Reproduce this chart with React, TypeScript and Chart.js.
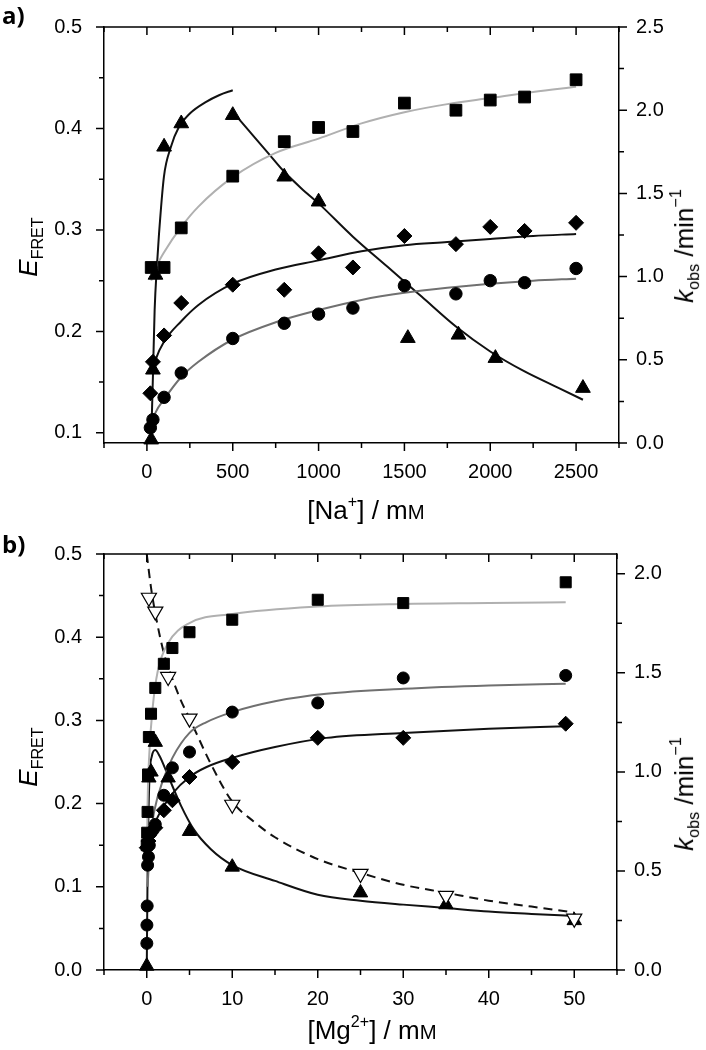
import React, { useEffect, useRef } from "react";
import { Chart, registerables } from "chart.js";
Chart.register(...registerables);

// ---------- Panel a: [Na+] / mM ----------
const naSqX = [25, 100, 200, 500, 800, 1000, 1200, 1500, 1800, 2000, 2200, 2500];
const naSqY = [0.263, 0.263, 0.302, 0.353, 0.387, 0.401, 0.397, 0.425, 0.418, 0.428, 0.431, 0.448];
const naDiX = [20, 35, 100, 200, 500, 800, 1000, 1200, 1500, 1800, 2000, 2200, 2500];
const naDiY = [0.139, 0.17, 0.196, 0.228, 0.246, 0.241, 0.277, 0.263, 0.294, 0.286, 0.303, 0.299, 0.307];
const naCiX = [20, 35, 100, 200, 500, 800, 1000, 1200, 1500, 1800, 2000, 2200, 2500];
const naCiY = [0.105, 0.113, 0.135, 0.159, 0.193, 0.208, 0.217, 0.223, 0.245, 0.237, 0.25, 0.248, 0.262];
const naTrX = [25, 35, 50, 100, 200, 500, 800, 1000, 1520, 1815, 2030, 2540];
const naTrY = [0.02, 0.44, 1.01, 1.78, 1.92, 1.97, 1.6, 1.45, 0.63, 0.65, 0.51, 0.33];

const naSqFitX = [25, 50, 100, 200, 300, 500, 750, 1000, 1250, 1500, 1750, 2000, 2250, 2500];
const naSqFitY = [0.25, 0.262, 0.278, 0.303, 0.323, 0.352, 0.376, 0.39, 0.405, 0.416, 0.424, 0.43, 0.436, 0.441];
const naCiFitX = [20, 50, 100, 200, 300, 500, 750, 1000, 1250, 1500, 1750, 2000, 2250, 2500];
const naCiFitY = [0.105, 0.12, 0.133, 0.155, 0.17, 0.192, 0.209, 0.221, 0.231, 0.238, 0.243, 0.247, 0.25, 0.252];
const naDiFitX = [30, 50, 100, 200, 300, 500, 750, 1000, 1250, 1500, 1750, 2000, 2250, 2500];
const naDiFitY = [0.16, 0.172, 0.19, 0.21, 0.226, 0.247, 0.261, 0.27, 0.279, 0.285, 0.288, 0.291, 0.294, 0.296];
const naTrRiseX = [25, 35, 45, 58, 70, 99, 140, 187, 250, 345, 420, 500];
const naTrRiseY = [0.02, 0.4, 0.8, 1.06, 1.25, 1.6, 1.78, 1.9, 1.98, 2.05, 2.09, 2.12];
const naTrFallX = [500, 600, 700, 800, 900, 1000, 1200, 1400, 1600, 1800, 2000, 2200, 2400, 2540];
const naTrFallY = [1.99, 1.87, 1.75, 1.63, 1.53, 1.44, 1.24, 1.06, 0.88, 0.7, 0.55, 0.43, 0.33, 0.26];

// ---------- Panel b: [Mg2+] / mM ----------
const mgSqX = [0, 0.05, 0.1, 0.15, 0.25, 0.5, 1, 2, 3, 5, 10, 20, 30, 49];
const mgSqY = [0.15, 0.165, 0.19, 0.235, 0.28, 0.308, 0.339, 0.368, 0.387, 0.406, 0.421, 0.445, 0.441, 0.466];
const mgCiX = [0.01, 0.02, 0.05, 0.1, 0.2, 0.3, 0.5, 1, 2, 3, 5, 10, 20, 30, 49];
const mgCiY = [0.032, 0.054, 0.077, 0.126, 0.136, 0.15, 0.165, 0.175, 0.21, 0.243, 0.262, 0.31, 0.321, 0.351, 0.354];
const mgDiX = [0, 0.2, 0.5, 1, 2, 3, 5, 10, 20, 30, 49];
const mgDiY = [0.147, 0.155, 0.165, 0.171, 0.192, 0.204, 0.232, 0.25, 0.279, 0.279, 0.296];
const mgTrX = [0, 0.25, 0.5, 1, 2.5, 5, 10, 25, 35, 50];
const mgTrY = [0.02, 0.97, 1.0, 1.15, 0.97, 0.7, 0.52, 0.39, 0.33, 0.25];
const mgOpX = [0.25, 1, 2.5, 5, 10, 25, 35, 50];
const mgOpY = [1.88, 1.81, 1.48, 1.27, 0.835, 0.486, 0.375, 0.26];

const mgSqFitX = [0.05, 0.1, 0.3, 0.7, 1.3, 2.5, 5, 10, 20, 30, 40, 49];
const mgSqFitY = [0.156, 0.2, 0.26, 0.316, 0.36, 0.393, 0.417, 0.428, 0.437, 0.44, 0.441, 0.442];
const mgCiFitX = [0.1, 0.2, 0.4, 0.9, 1.9, 3, 5, 7, 10, 15, 21, 30, 40, 49];
const mgCiFitY = [0.1, 0.12, 0.156, 0.192, 0.228, 0.255, 0.285, 0.298, 0.31, 0.323, 0.332, 0.338, 0.342, 0.344];
const mgDiFitX = [0.2, 0.5, 1, 2, 3, 5, 7, 10, 15, 21, 30, 40, 49];
const mgDiFitY = [0.155, 0.165, 0.178, 0.197, 0.212, 0.232, 0.244, 0.255, 0.268, 0.279, 0.285, 0.29, 0.293];
const mgTrFitX = [0, 0.1, 0.3, 0.6, 1, 1.5, 2.5, 4, 5.5, 7.5, 10, 15, 20, 25, 30, 35, 40, 45, 50];
const mgTrFitY = [0, 0.5, 0.95, 1.08, 1.11, 1.08, 0.98, 0.83, 0.71, 0.61, 0.53, 0.45, 0.38, 0.35, 0.33, 0.313, 0.295, 0.283, 0.273];
const mgOpFitX = [0, 0.5, 1, 2, 3, 4, 5, 7.5, 10, 12.5, 15, 20, 25, 30, 35, 40, 45, 50];
const mgOpFitY = [2.1, 1.93, 1.8, 1.6, 1.47, 1.36, 1.27, 1.04, 0.85, 0.75, 0.67, 0.56, 0.49, 0.43, 0.39, 0.35, 0.32, 0.29];

const LIGHT = "#b0b0b0";
const MID = "#707070";
const FONT = '"Liberation Sans", Arial, sans-serif';

const xy = (xs: number[], ys: number[]) => xs.map((x, i) => ({ x, y: ys[i] }));
const isMult = (v: number, m: number) => Math.abs(v / m - Math.round(v / m)) < 1e-6;

function markers(xs: number[], ys: number[], axis: string, style: string, r: number, extra: any = {}) {
  return {
    data: xy(xs, ys),
    yAxisID: axis,
    showLine: false,
    pointStyle: style,
    pointRadius: r,
    pointBackgroundColor: "#000",
    pointBorderColor: "#000",
    pointBorderWidth: 1,
    clip: false,
    order: 0,
    ...extra,
  };
}
function fit(xs: number[], ys: number[], axis: string, color: string, extra: any = {}) {
  return {
    data: xy(xs, ys),
    yAxisID: axis,
    showLine: true,
    borderColor: color,
    borderWidth: 2,
    pointRadius: 0,
    cubicInterpolationMode: "monotone",
    order: 1,
    ...extra,
  };
}

const axisTicks = {
  id: "axisTicks",
  afterDraw(chart: any) {
    const { ctx, chartArea: a } = chart;
    const sx = chart.scales.x, sy = chart.scales.y, sy1 = chart.scales.y1;
    const major = 8, minor = 5;
    ctx.save();
    ctx.strokeStyle = "#000";
    ctx.lineWidth = 1.5;
    ctx.beginPath();
    ctx.moveTo(a.left, a.top);
    ctx.lineTo(a.right, a.top);
    sx.ticks.forEach((t: any) => {
      const p = sx.getPixelForValue(t.value);
      const len = t.label ? major : minor;
      ctx.moveTo(p, a.bottom);
      ctx.lineTo(p, a.bottom + len);
      ctx.moveTo(p, a.top);
      ctx.lineTo(p, a.top + len);
    });
    sy.ticks.forEach((t: any) => {
      const p = sy.getPixelForValue(t.value);
      const len = t.label ? major : minor;
      ctx.moveTo(a.left, p);
      ctx.lineTo(a.left - len, p);
    });
    sy1.ticks.forEach((t: any) => {
      const p = sy1.getPixelForValue(t.value);
      const len = t.label ? major : minor;
      ctx.moveTo(a.right, p);
      ctx.lineTo(a.right + len, p);
    });
    ctx.stroke();
    ctx.restore();
  },
};

type Spec = {
  W: number; H: number;
  area: { left: number; right: number; top: number; bottom: number };
  x: [number, number, number, number];
  y: [number, number, number, number];
  y1: [number, number, number, number];
  datasets: any[];
};

// tick marks at every multiple of `step` inside [min, max]
function stepTicks(min: number, max: number, step: number) {
  return (scale: any) => {
    const out: any[] = [];
    const first = Math.ceil(min / step - 1e-9);
    const last = Math.floor(max / step + 1e-9);
    for (let k = first; k <= last; k++) out.push({ value: Math.round(k * step * 1e6) / 1e6 });
    scale.ticks = out;
  };
}

function buildConfig(s: Spec): any {
  const tickFont = { family: FONT, size: 20 };
  return {
    type: "scatter",
    data: { datasets: s.datasets },
    options: {
      animation: false,
      responsive: false,
      maintainAspectRatio: false,
      layout: { padding: { top: s.area.top, left: 0, right: 0, bottom: 0 } },
      plugins: { legend: { display: false }, tooltip: { enabled: false } },
      scales: {
        x: {
          type: "linear",
          position: "bottom",
          min: s.x[0], max: s.x[1],
          grid: { display: false },
          border: { display: true, color: "#000", width: 1.5 },
          ticks: {
            stepSize: s.x[2], autoSkip: false, maxRotation: 0, padding: 9,
            color: "#000", font: tickFont,
            callback: (v: number) => (isMult(v, s.x[3]) ? String(v) : ""),
          },
          afterBuildTicks: stepTicks(s.x[0], s.x[1], s.x[2]),
          afterFit: (sc: any) => { sc.height = s.H - s.area.bottom; },
        },
        y: {
          type: "linear",
          position: "left",
          min: s.y[0], max: s.y[1],
          grid: { display: false },
          border: { display: true, color: "#000", width: 1.5 },
          ticks: {
            stepSize: s.y[2], autoSkip: false, padding: 14,
            color: "#000", font: tickFont,
            callback: (v: number) => (isMult(v, s.y[3]) ? v.toFixed(1) : ""),
          },
          afterBuildTicks: stepTicks(s.y[0], s.y[1], s.y[2]),
          afterFit: (sc: any) => { sc.width = s.area.left; },
        },
        y1: {
          type: "linear",
          position: "right",
          min: s.y1[0], max: s.y1[1],
          grid: { display: false },
          border: { display: true, color: "#000", width: 1.5 },
          ticks: {
            stepSize: s.y1[2], autoSkip: false, padding: 9,
            color: "#000", font: tickFont,
            callback: (v: number) => (isMult(v, s.y1[3]) ? v.toFixed(1) : ""),
          },
          afterBuildTicks: stepTicks(s.y1[0], s.y1[1], s.y1[2]),
          afterFit: (sc: any) => { sc.width = s.W - s.area.right; },
        },
      },
    },
    plugins: [axisTicks],
  };
}

const specA: Spec = {
  W: 706, H: 525,
  area: { left: 104, right: 619, top: 27, bottom: 443 },
  x: [-250, 2750, 250, 500],
  y: [0.09, 0.5, 0.05, 0.1],
  y1: [0, 2.5, 0.25, 0.5],
  datasets: [
    markers(naSqX, naSqY, "y", "rect", 8.3),
    markers(naDiX, naDiY, "y", "rectRot", 7.5),
    markers(naCiX, naCiY, "y", "circle", 6.2),
    markers(naTrX, naTrY, "y1", "triangle", 8.5),
    fit(naSqFitX, naSqFitY, "y", LIGHT),
    fit(naCiFitX, naCiFitY, "y", MID),
    fit(naDiFitX, naDiFitY, "y", "#111"),
    fit(naTrRiseX, naTrRiseY, "y1", "#111"),
    fit(naTrFallX, naTrFallY, "y1", "#111"),
  ],
};

const specB: Spec = {
  W: 706, H: 525,
  area: { left: 104, right: 617, top: 29, bottom: 445 },
  x: [-5, 55, 5, 10],
  y: [0, 0.5, 0.05, 0.1],
  y1: [0, 2.1, 0.25, 0.5],
  datasets: [
    markers(mgOpX, mgOpY, "y1", "triangle", 8.7, {
      rotation: 180, pointBackgroundColor: "#fff", pointBorderColor: "#000", pointBorderWidth: 1.2,
    }),
    markers(mgSqX, mgSqY, "y", "rect", 7.8),
    markers(mgCiX, mgCiY, "y", "circle", 6),
    markers(mgDiX, mgDiY, "y", "rectRot", 7.5),
    markers(mgTrX, mgTrY, "y1", "triangle", 8.3),
    fit(mgSqFitX, mgSqFitY, "y", LIGHT),
    fit(mgCiFitX, mgCiFitY, "y", MID),
    fit(mgDiFitX, mgDiFitY, "y", "#111"),
    fit(mgTrFitX, mgTrFitY, "y1", "#111"),
    fit(mgOpFitX, mgOpFitY, "y1", "#111", { borderDash: [9, 6] }),
  ],
};

function Panel({ spec, top }: { spec: Spec; top: number }) {
  const ref = useRef<HTMLCanvasElement | null>(null);
  useEffect(() => {
    if (!ref.current) return;
    const chart = new Chart(ref.current, buildConfig(spec));
    return () => chart.destroy();
  }, [spec]);
  return (
    <canvas
      ref={ref}
      width={spec.W}
      height={spec.H}
      style={{ position: "absolute", left: 0, top, width: spec.W, height: spec.H }}
    />
  );
}

const base: React.CSSProperties = {
  position: "absolute",
  whiteSpace: "nowrap",
  fontFamily: FONT,
  color: "#000",
  lineHeight: 1,
};
const rot = (cx: number, cy: number): React.CSSProperties => ({
  ...base,
  left: cx,
  top: cy,
  fontSize: 26,
  transform: "translate(-50%, -50%) rotate(-90deg)",
});
const hor = (cx: number, cy: number): React.CSSProperties => ({
  ...base,
  left: cx,
  top: cy,
  fontSize: 26,
  transform: "translate(-50%, -50%)",
});
const subS: React.CSSProperties = { fontSize: "0.62em", verticalAlign: "-0.35em" };
const supS: React.CSSProperties = { fontSize: "0.62em", verticalAlign: "0.75em" };

function EFret({ cx, cy }: { cx: number; cy: number }) {
  return (
    <div style={rot(cx, cy)}>
      <span style={{ fontStyle: "italic" }}>E</span>
      <span style={subS}>FRET</span>
    </div>
  );
}
function KObs({ cx, cy }: { cx: number; cy: number }) {
  return (
    <div style={rot(cx, cy)}>
      <span style={{ fontStyle: "italic" }}>k</span>
      <span style={subS}>obs</span>
      <span> /min</span>
      <span style={supS}>−1</span>
    </div>
  );
}

export default function App() {
  return (
    <div style={{ position: "absolute", left: 0, top: 0, width: 706, height: 1050, background: "#fff", overflow: "hidden" }}>
      <Panel spec={specA} top={0} />
      <Panel spec={specB} top={525} />
      <div style={{ ...base, left: 2, top: 3, fontSize: 24, fontWeight: 700, fontFamily: '"Open Sans", Arial, sans-serif' }}>a)</div>
      <div style={{ ...base, left: 2, top: 532, fontSize: 24, fontWeight: 700, fontFamily: '"Open Sans", Arial, sans-serif' }}>b)</div>
      <EFret cx={30} cy={247} />
      <KObs cx={684} cy={246} />
      <EFret cx={30} cy={757} />
      <KObs cx={684} cy={794} />
      <div style={hor(366, 508)}>
        [Na<span style={supS}>+</span>] / m<span style={{ fontSize: "0.78em" }}>M</span>
      </div>
      <div style={hor(372, 1028)}>
        [Mg<span style={supS}>2+</span>] / m<span style={{ fontSize: "0.78em" }}>M</span>
      </div>
    </div>
  );
}
